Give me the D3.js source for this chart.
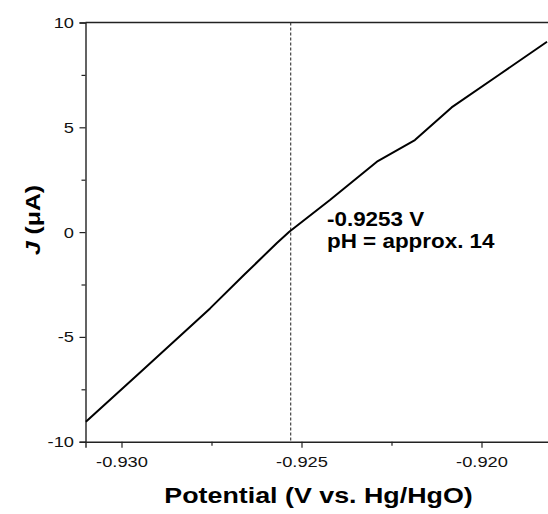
<!DOCTYPE html>
<html lang="en">
<head>
<meta charset="UTF-8">
<title>J vs Potential</title>
<script src="https://d3js.org/d3.v7.min.js"></script>
<style>
html,body{margin:0;padding:0;background:#fff}
svg{display:block}
.tick text{font-family:"Liberation Sans",Arial,sans-serif;font-size:15.5px;fill:#111}
.title{font-family:"Liberation Sans",Arial,sans-serif;font-weight:bold;fill:#000}
</style>
</head>
<body>
<div id="chart"></div>
<script>
// potential (V vs. Hg/HgO) and current density J (µA)
const potential = [-0.93099, -0.92950, -0.92754, -0.92660, -0.92569, -0.92534, -0.92421, -0.92288, -0.92185, -0.92083, -0.91950, -0.91818];
const current   = [-9.05, -6.72, -3.64, -2.05, -0.53, 0.02, 1.53, 3.39, 4.39, 5.95, 7.52, 9.08];

const xTicks = [-0.930, -0.925, -0.920];
const xMinor = [-0.9275, -0.9225];
const yTicks = [-10, -5, 0, 5, 10];
const yMinor = [-7.5, -2.5, 2.5, 7.5];

const markPotential = -0.9253;
const noteLines = ['-0.9253 V', 'pH = approx. 14'];

const W = 548, H = 514;
const margin = { top: 22.5, left: 85.5, bottom: 72.3 };
const plotRight = 553.5;
const SX = 1.18; // the original figure's lettering is slightly wide

const svg = d3.select('#chart').append('svg').attr('width', W).attr('height', H);

const x = d3.scaleLinear().domain([-0.931, -0.918]).range([margin.left, plotRight]);
const y = d3.scaleLinear().domain([-10, 10]).range([H - margin.bottom, margin.top]);

const hyphen = function(f) { return function(d) { return f(d).replace('\u2212', '-'); }; };

// axes
const xAxis = svg.append('g').attr('transform', 'translate(0,' + y(-10) + ')')
  .call(d3.axisBottom(x).tickValues(xTicks).tickFormat(hyphen(d3.format('.3f'))).tickSize(6).tickPadding(8));
const xAxisMinor = svg.append('g').attr('transform', 'translate(0,' + y(-10) + ')')
  .call(d3.axisBottom(x).tickValues(xMinor).tickFormat('').tickSize(4));
const yAxis = svg.append('g').attr('transform', 'translate(' + x(-0.931) + ',0)')
  .call(d3.axisLeft(y).tickValues(yTicks).tickFormat(hyphen(d3.format('d'))).tickSize(6));
const yAxisMinor = svg.append('g').attr('transform', 'translate(' + x(-0.931) + ',0)')
  .call(d3.axisLeft(y).tickValues(yMinor).tickFormat('').tickSize(4));

[xAxis, xAxisMinor, yAxis, yAxisMinor].forEach(function(g) {
  g.select('.domain').attr('stroke', '#222').attr('stroke-width', 1.4);
  g.selectAll('.tick line').attr('stroke', '#222').attr('stroke-width', 1.2);
});
xAxisMinor.select('.domain').remove();
yAxisMinor.select('.domain').remove();
xAxis.selectAll('.tick text').attr('transform', 'scale(' + SX + ',1)');
yAxis.selectAll('.tick text').attr('x', -11.5 / SX).attr('transform', 'scale(' + SX + ',1)');

// top frame line
svg.append('line')
  .attr('x1', x(-0.931)).attr('x2', plotRight)
  .attr('y1', y(10)).attr('y2', y(10))
  .attr('stroke', '#222').attr('stroke-width', 1.4);

// dashed marker at the zero crossing
svg.append('line')
  .attr('x1', x(markPotential)).attr('x2', x(markPotential))
  .attr('y1', y(10)).attr('y2', y(-10))
  .attr('stroke', '#333').attr('stroke-width', 1.1)
  .attr('stroke-dasharray', '3,2');

// curve
const line = d3.line().x(function(d, i) { return x(potential[i]); }).y(function(d) { return y(d); });
svg.append('path').datum(current)
  .attr('d', line)
  .attr('fill', 'none').attr('stroke', '#000').attr('stroke-width', 2)
  .attr('stroke-linejoin', 'round');

// annotation
const note = svg.append('text').attr('class', 'title').attr('font-size', 19.5)
  .attr('transform', 'translate(327,226) scale(' + (SX - 0.03) + ',1)');
noteLines.forEach(function(t, i) {
  note.append('tspan').attr('x', 0).attr('y', i * 22).text(t);
});

// axis titles
svg.append('text').attr('class', 'title').attr('font-size', 22)
  .attr('text-anchor', 'middle')
  .attr('transform', 'translate(' + ((margin.left + plotRight) / 2 - 1) + ',503) scale(' + (SX + 0.04) + ',1)')
  .text('Potential (V vs. Hg/HgO)');

const yt = svg.append('text').attr('class', 'title').attr('font-size', 21)
  .attr('text-anchor', 'middle')
  .attr('transform', 'translate(40,220) rotate(-90) scale(' + SX + ',1)');
yt.append('tspan').attr('font-style', 'italic').text('J');
yt.append('tspan').text(' (μA)');
</script>
</body>
</html>
